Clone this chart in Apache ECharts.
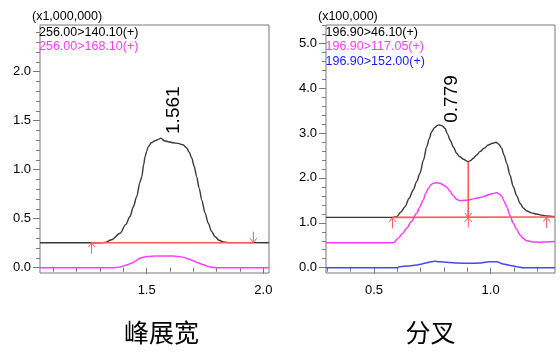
<!DOCTYPE html>
<html><head><meta charset="utf-8">
<script src="https://cdn.jsdelivr.net/npm/echarts@6/dist/echarts.min.js"></script>
<style>html,body{margin:0;padding:0;background:#fff}#c{width:560px;height:360px}</style>
</head><body><div id="c"></div>
<script>
// ---------- data ----------
// Left panel: 峰展宽 (x1,000,000)
const leftBlackX = [1.043,1.30,1.321,1.35,1.386,1.41,1.428,1.443,1.457,1.471,1.479,1.487,1.493,1.500,1.507,1.52,1.536,1.55,1.561,1.575,1.593,1.615,1.635,1.655,1.671,1.682,1.693,1.704,1.714,1.725,1.736,1.75,1.764,1.778,1.793,1.81,1.828,1.86,2.024];
const leftBlackY = [0.255,0.255,0.258,0.285,0.351,0.44,0.52,0.622,0.724,0.87,0.929,1.05,1.133,1.19,1.235,1.275,1.296,1.31,1.322,1.295,1.286,1.275,1.269,1.255,1.225,1.18,1.12,1.03,0.93,0.81,0.69,0.56,0.453,0.37,0.316,0.28,0.262,0.256,0.255];
const leftPinkX = [1.043,1.36,1.371,1.39,1.414,1.435,1.450,1.471,1.49,1.5,1.543,1.614,1.635,1.657,1.68,1.700,1.72,1.743,1.765,1.785,1.80,2.024];
const leftPinkY = [0,0,0.002,0.01,0.027,0.045,0.065,0.097,0.11,0.114,0.119,0.119,0.115,0.106,0.09,0.071,0.05,0.031,0.012,0.002,0,0];
const leftBaseX = [1.264,1.957];
const leftBaseY = [0.255,0.255];
const leftPeak = [1.561,1.322];

// Right panel: 分叉 (x100,000)
const rightBlackX = [0.294,0.58,0.597,0.615,0.633,0.65,0.668,0.683,0.697,0.712,0.726,0.737,0.747,0.76,0.772,0.779,0.792,0.804,0.815,0.826,0.840,0.854,0.868,0.883,0.904,0.915,0.926,0.940,0.954,0.972,0.990,1.008,1.023,1.035,1.047,1.058,1.069,1.083,1.097,1.112,1.126,1.140,1.155,1.175,1.197,1.22,1.240,1.276];
const rightBlackY = [1.12,1.12,1.136,1.24,1.359,1.54,1.731,1.92,2.102,2.40,2.695,2.88,3.029,3.12,3.17,3.178,3.16,3.105,2.98,2.844,2.69,2.548,2.47,2.414,2.361,2.39,2.437,2.51,2.584,2.66,2.733,2.77,2.793,2.75,2.659,2.50,2.325,2.06,1.804,1.60,1.434,1.33,1.263,1.22,1.196,1.17,1.151,1.136];
const rightPinkX = [0.294,0.575,0.583,0.604,0.622,0.640,0.660,0.683,0.697,0.711,0.722,0.733,0.744,0.754,0.770,0.783,0.797,0.812,0.826,0.840,0.855,0.869,0.886,0.904,0.922,0.940,0.958,0.976,0.995,1.010,1.026,1.037,1.047,1.058,1.069,1.083,1.097,1.112,1.126,1.140,1.155,1.180,1.212,1.240,1.276];
const rightPinkY = [0.555,0.555,0.56,0.655,0.76,0.877,1.03,1.212,1.36,1.508,1.66,1.768,1.85,1.88,1.89,1.88,1.84,1.791,1.70,1.597,1.52,1.492,1.50,1.508,1.53,1.546,1.57,1.597,1.63,1.65,1.670,1.64,1.597,1.48,1.359,1.16,0.989,0.85,0.728,0.65,0.601,0.575,0.566,0.575,0.585];
const rightBlueX = [0.294,0.60,0.611,0.650,0.683,0.705,0.726,0.745,0.761,0.78,0.797,0.825,0.854,0.911,0.954,0.975,0.997,1.026,1.054,1.085,1.112,1.140,1.276];
const rightBlueY = [0,0,0.022,0.04,0.06,0.085,0.111,0.135,0.143,0.135,0.127,0.115,0.105,0.098,0.105,0.12,0.134,0.134,0.082,0.05,0.022,0,0];
const rightBaseX = [0.579,1.276];
const rightBaseY = [1.12,1.13];
const rightSplitX = [0.904,0.904];
const rightSplitY = [1.12,2.361];
const rightPeak = [0.779,3.178];

// tick values
const leftXMajor = [1.5,2.0];
const leftXMinor = [1.1,1.2,1.3,1.4,1.6,1.7,1.8,1.9];
const leftYMajor = [0,0.5,1.0,1.5,2.0];
const leftYMinor = [0.1,0.2,0.3,0.4,0.6,0.7,0.8,0.9,1.1,1.2,1.3,1.4,1.6,1.7,1.8,1.9,2.1,2.2,2.3,2.4];
const rightXMajor = [0.5,1.0];
const rightXMinor = [0.3,0.4,0.6,0.7,0.8,0.9,1.1,1.2];
const rightYMajor = [0,1,2,3,4,5];
const rightYMinor = [0.2,0.4,0.6,0.8,1.2,1.4,1.6,1.8,2.2,2.4,2.6,2.8,3.2,3.4,3.6,3.8,4.2,4.4,4.6,4.8,5.2,5.4];

const leftLegend = ['256.00>140.10(+)','256.00>168.10(+)'];
const rightLegend = ['196.90>46.10(+)','196.90>117.05(+)','196.90>152.00(+)'];
const leftScale = '(x1,000,000)';
const rightScale = '(x100,000)';
const captions = ['峰展宽','分叉'];

// ---------- chart ----------
const zip = (xs, ys) => xs.map((x, i) => [x, ys[i]]);
const FONT = '"Liberation Sans", Arial, sans-serif';
const AX = '#7a7a7a';
const BLACK = '#383838', PINK = '#ff3cff', BLUE = '#4646ff', RED = '#ff5a5a';

function xAxes(gi, min, max, major, minor) {
  return [
    {gridIndex: gi, type: 'value', min, max, position: 'bottom',
     axisLine: {show: false}, splitLine: {show: false},
     axisTick: {show: true, customValues: major, length: 6, lineStyle: {color: AX}},
     axisLabel: {show: true, customValues: major, formatter: v => v.toFixed(1), margin: 11,
                 fontSize: 13, fontFamily: FONT, color: '#000'}},
    {gridIndex: gi, type: 'value', min, max, position: 'bottom',
     axisLine: {show: false}, splitLine: {show: false},
     axisTick: {show: true, customValues: minor, length: 4, lineStyle: {color: AX}},
     axisLabel: {show: false}}
  ];
}
function yAxes(gi, min, max, major, minor) {
  return [
    {gridIndex: gi, type: 'value', min, max, position: 'left',
     axisLine: {show: false}, splitLine: {show: false},
     axisTick: {show: true, customValues: major, length: 7, lineStyle: {color: AX}},
     axisLabel: {show: true, customValues: major, formatter: v => v.toFixed(1), margin: 9,
                 fontSize: 13, fontFamily: FONT, color: '#000'}},
    {gridIndex: gi, type: 'value', min, max, position: 'left',
     axisLine: {show: false}, splitLine: {show: false},
     axisTick: {show: true, customValues: minor, length: 4, lineStyle: {color: AX}},
     axisLabel: {show: false}}
  ];
}
function line(xi, yi, data, color, width, z) {
  return {type: 'line', xAxisIndex: xi, yAxisIndex: yi, data, symbol: 'none',
          smooth: 0.3, smoothMonotone: 'x', lineStyle: {color, width}, z: z || 2,
          animation: false, silent: true};
}

const chart = echarts.init(document.getElementById('c'), null, {renderer: 'canvas'});
chart.setOption({
  animation: false,
  grid: [
    {left: 40, top: 25, width: 229, height: 248, show: true, borderColor: AX, borderWidth: 1, backgroundColor: 'transparent'},
    {left: 326, top: 25, width: 229, height: 248, show: true, borderColor: AX, borderWidth: 1, backgroundColor: 'transparent'}
  ],
  xAxis: [...xAxes(0, 1.043, 2.024, leftXMajor, leftXMinor), ...xAxes(1, 0.294, 1.276, rightXMajor, rightXMinor)],
  yAxis: [...yAxes(0, -0.054, 2.477, leftYMajor, leftYMinor), ...yAxes(1, -0.118, 5.405, rightYMajor, rightYMinor)],
  series: [
    line(0, 0, zip(leftPinkX, leftPinkY), PINK, 1.5),
    line(0, 0, zip(leftBlackX, leftBlackY), BLACK, 1.4),
    Object.assign(line(0, 0, zip(leftBaseX, leftBaseY), RED, 1.6, 3), {smooth: false}),
    line(2, 2, zip(rightBlueX, rightBlueY), BLUE, 1.5),
    line(2, 2, zip(rightPinkX, rightPinkY), PINK, 1.5),
    line(2, 2, zip(rightBlackX, rightBlackY), BLACK, 1.4),
    Object.assign(line(2, 2, zip(rightBaseX, rightBaseY), RED, 1.6, 3), {smooth: false}),
    Object.assign(line(2, 2, zip(rightSplitX, rightSplitY), RED, 1.6, 3), {smooth: false})
  ]
});

// ---------- annotations placed through the axes' own scales ----------
const px = (gi, pt) => chart.convertToPixel({xAxisIndex: gi * 2, yAxisIndex: gi * 2}, pt);
const g = [];
function txt(x, y, text, color, size, extra) {
  g.push(Object.assign({type: 'text', x, y, silent: true, z: 10,
    style: {text, fill: color, fontSize: size, fontFamily: FONT, align: 'left', verticalAlign: 'middle'}}, extra || {}));
}
function arrow(p, dir) { // dir -1 = pointing up (tail below), +1 = pointing down (tail above)
  const [x, y] = p; const L = 11, hw = 3.3, hd = 4.5;
  const s = dir < 0 ? 1 : -1;
  g.push({type: 'line', silent: true, z: 10, shape: {x1: x, y1: y, x2: x, y2: y + s * L}, style: {stroke: RED, lineWidth: 1}});
  g.push({type: 'polyline', silent: true, z: 10, shape: {points: [[x - hw, y + s * hd], [x, y], [x + hw, y + s * hd]]}, style: {stroke: RED, lineWidth: 1, fill: null}});
}
function cross(p) {
  const [x, y] = p;
  g.push({type: 'line', silent: true, z: 10, shape: {x1: x, y1: y - 6, x2: x, y2: y + 10}, style: {stroke: RED, lineWidth: 1}});
  g.push({type: 'line', silent: true, z: 10, shape: {x1: x - 3.5, y1: y - 4.5, x2: x + 3.5, y2: y + 4.5}, style: {stroke: RED, lineWidth: 1}});
  g.push({type: 'line', silent: true, z: 10, shape: {x1: x + 3.5, y1: y - 4.5, x2: x - 3.5, y2: y + 4.5}, style: {stroke: RED, lineWidth: 1}});
}

// scale labels & legends
txt(32, 16.5, leftScale, '#000', 12.5);
txt(39, 32.7, leftLegend[0], '#000', 12.5);
txt(39, 46.7, leftLegend[1], PINK, 12.5);
txt(318, 16.5, rightScale, '#000', 12.5);
txt(325.5, 32.3, rightLegend[0], '#000', 12.5);
txt(325.5, 46.7, rightLegend[1], PINK, 12.5);
txt(325.5, 61.3, rightLegend[2], '#1a1aff', 12.5);

// peak labels
const lp = px(0, leftPeak), rp = px(1, rightPeak);
txt(lp[0] + 13, lp[1] - 28, leftPeak[0].toFixed(3), '#000', 19, {rotation: Math.PI / 2, style: {text: leftPeak[0].toFixed(3), fill: '#000', fontSize: 19, fontFamily: FONT, align: 'center', verticalAlign: 'middle'}});
txt(rp[0] + 13, rp[1] - 26, rightPeak[0].toFixed(3), '#000', 19, {rotation: Math.PI / 2, style: {text: rightPeak[0].toFixed(3), fill: '#000', fontSize: 19, fontFamily: FONT, align: 'center', verticalAlign: 'middle'}});

// integration markers
arrow(px(0, [leftBaseX[0], leftBaseY[0]]), -1);
arrow(px(0, [leftBaseX[1], leftBaseY[1]]), 1);
arrow(px(1, [rightBaseX[0], rightBaseY[0]]), -1);
arrow(px(1, [1.240, 1.128]), -1);
cross(px(1, [rightSplitX[0], rightSplitY[0]]));

// captions
g.push({type: 'text', x: 161.5, y: 332.5, silent: true, style: {text: captions[0], fill: '#000', fontSize: 25, fontFamily: '"Noto Sans CJK SC", sans-serif', align: 'center', verticalAlign: 'middle'}});
g.push({type: 'text', x: 430.5, y: 332.5, silent: true, style: {text: captions[1], fill: '#000', fontSize: 25, fontFamily: '"Noto Sans CJK SC", sans-serif', align: 'center', verticalAlign: 'middle'}});

chart.setOption({graphic: g});
</script>
</body></html>
